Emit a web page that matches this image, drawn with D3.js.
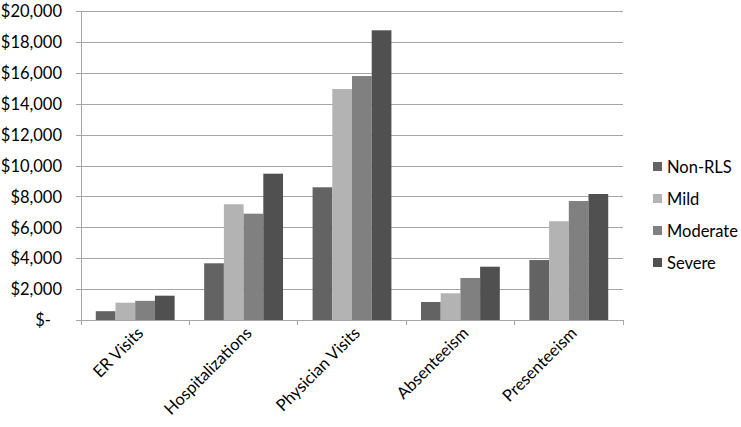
<!DOCTYPE html>
<html>
<head>
<meta charset="utf-8">
<script src="https://cdn.jsdelivr.net/npm/d3@7"></script>
<style>
    body { margin: 0; background: #fff; }
    svg text { font-family: Lato, "Open Sans", sans-serif; fill: #000; }
</style>
</head>
<body>
<svg id="chart" width="741" height="427"></svg>
<script>
// categories and series
var categories = ['ER Visits', 'Hospitalizations', 'Physician Visits', 'Absenteeism', 'Presenteeism'];
var seriesNames = ['Non-RLS', 'Mild', 'Moderate', 'Severe'];
var nonRls   = [570, 3670, 8590, 1165, 3880];
var mild     = [1120, 7490, 14950, 1730, 6390];
var moderate = [1240, 6880, 15790, 2720, 7700];
var severe   = [1573, 9470, 18750, 3450, 8155];
var yTicks = [0, 2000, 4000, 6000, 8000, 10000, 12000, 14000, 16000, 18000, 20000];

var seriesValues = [nonRls, mild, moderate, severe];
var colors = ['#636363', '#b3b3b3', '#808080', '#505050'];

var margin = {left: 81, right: 118, top: 11, bottom: 107},
    width = 741 - margin.left - margin.right,
    height = 427 - margin.top - margin.bottom;

var svg = d3.select('#chart');
var g = svg.append('g').attr('transform', 'translate(' + margin.left + ',' + margin.top + ')');

var x = d3.scaleBand().domain(categories).range([0, width]);
// gap width 150% -> outer padding 0.75 bar each side
var x1 = d3.scaleBand().domain(seriesNames)
        .range([x.bandwidth() * 0.75 / 5.5, x.bandwidth() - x.bandwidth() * 0.75 / 5.5]);
var y = d3.scaleLinear().domain([0, 20000]).range([height, 0]);

var fmt = function(v) {
    return v === 0 ? '$-' : '$' + d3.format(',')(v);
};

// gridlines + y labels
var yAxis = g.append('g')
        .call(d3.axisLeft(y).tickValues(yTicks).tickSize(-width).tickSizeOuter(0).tickFormat(fmt).tickPadding(19));
yAxis.select('.domain').remove();
yAxis.selectAll('.tick line').attr('stroke', '#a6a6a6').attr('x1', -5).attr('shape-rendering', 'crispEdges');
yAxis.selectAll('.tick text').attr('font-size', 16.5).attr('dy', '0.35em')
        .attr('dx', function(d) { return d === 0 ? -11 : 0; });

// bars
var groups = g.selectAll('.cat').data(categories).enter().append('g')
        .attr('class', 'cat')
        .attr('transform', function(d) { return 'translate(' + x(d) + ',0)'; });

groups.selectAll('rect')
        .data(function(d, i) {
            return seriesNames.map(function(s, j) { return {s: s, v: seriesValues[j][i], j: j}; });
        })
        .enter().append('rect')
        .attr('x', function(d) { return x1(d.s); })
        .attr('width', x1.bandwidth())
        .attr('y', function(d) { return y(d.v); })
        .attr('height', function(d) { return height - y(d.v); })
        .attr('fill', function(d) { return colors[d.j]; });

// y axis line
g.append('line')
        .attr('x1', 0).attr('x2', 0).attr('y1', 0).attr('y2', height)
        .attr('stroke', '#a6a6a6').attr('shape-rendering', 'crispEdges');

// x axis
var xAxis = g.append('g').attr('transform', 'translate(0,' + height + ')')
        .call(d3.axisBottom(x).tickSize(0).tickSizeOuter(0));
xAxis.select('.domain').attr('stroke', '#a6a6a6').attr('shape-rendering', 'crispEdges');
xAxis.selectAll('.tick text')
        .attr('font-size', 16.5)
        .attr('text-anchor', 'end')
        .attr('transform', 'translate(5,10) rotate(-45)')
        .attr('dy', '0.35em')
        .attr('y', 0);

// category separators
g.selectAll('.sep').data(d3.range(categories.length + 1)).enter().append('line')
        .attr('class', 'sep')
        .attr('x1', function(i) { return i * x.step(); })
        .attr('x2', function(i) { return i * x.step(); })
        .attr('y1', height).attr('y2', height + 5)
        .attr('stroke', '#a6a6a6').attr('shape-rendering', 'crispEdges');

// legend
var legend = svg.append('g').attr('transform', 'translate(653,159)');
var items = legend.selectAll('g').data(seriesNames).enter().append('g')
        .attr('transform', function(d, i) { return 'translate(0,' + i * 32 + ')'; });
items.append('rect').attr('width', 9).attr('height', 9).attr('y', 3)
        .attr('fill', function(d, i) { return colors[i]; });
items.append('text').attr('x', 14).attr('y', 8).attr('dy', '0.35em')
        .attr('font-size', 16.5).text(function(d) { return d; });
</script>
</body>
</html>
